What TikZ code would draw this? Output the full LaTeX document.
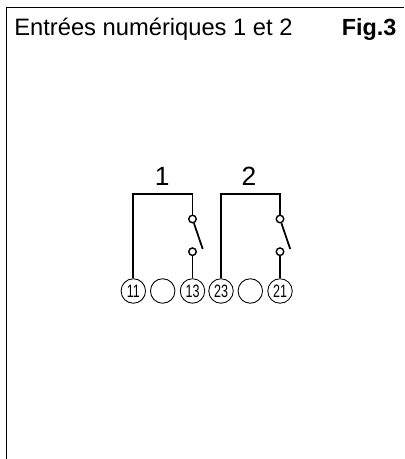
\documentclass[tikz,border=0pt]{standalone}
\usepackage{fontspec}
\setmainfont{Liberation Sans}
\tikzset{
    terminal/.style={draw=black, line width=0.5pt, circle, inner sep=0pt, minimum size=0.49cm},
    contact/.style={draw=black, line width=0.8pt, circle, inner sep=0pt, minimum size=0.15cm, fill=white},
    wire/.style={line width=1pt},
    frameline/.style={line width=1pt},
}
\newcommand\termlabel[1]{\scalebox{0.7}[1]{\fontsize{10.2}{12}\selectfont #1}}
\begin{document}
\begin{tikzpicture}
    \newcommand\posTerm{3.36}
    \newcommand\posTop{5.306}
    \newcommand\posLab{5.646}
    \useasboundingbox (0, 0) rectangle (8.08, 9.18);

    \coordinate (frameA) at (0.13, 0);
    \coordinate (frameB) at (0.13, 9.03);
    \coordinate (frameC) at (8.08, 9.03);
    \draw[frameline] (frameA) -- (frameB) -- (frameC);

    \node[anchor=base west, inner sep=0pt] (title) at (0.28, 8.466){\fontsize{13.5}{15}\selectfont Entrées numériques 1 et 2};
    \node[anchor=base east, inner sep=0pt] (fig) at (7.934, 8.466){\fontsize{13.3}{15}\selectfont\bfseries Fig.3};

    \node[terminal] (t11) at (2.666, \posTerm){\termlabel{11}};
    \node[terminal] (tA) at (3.254, \posTerm){};
    \node[terminal] (t13) at (3.85, \posTerm){\termlabel{13}};
    \node[terminal] (t23) at (4.42, \posTerm){\termlabel{23}};
    \node[terminal] (tB) at (5.006, \posTerm){};
    \node[terminal] (t21) at (5.6, \posTerm){\termlabel{21}};

    \node[contact] (c1top) at (3.85, 4.8){};
    \node[contact] (c1bot) at (3.85, 4.146){};
    \node[contact] (c2top) at (5.6, 4.8){};
    \node[contact] (c2bot) at (5.6, 4.146){};

    \coordinate (free1) at (4.054, 4.2);
    \coordinate (free2) at (5.804, 4.2);
    \coordinate (top1) at (3.85, \posTop);
    \coordinate (top2) at (5.6, \posTop);

    \draw[wire] (t11) |- (top1) -- (c1top);
    \draw[wire] (t23) |- (top2) -- (c2top);
    \draw[wire] (t13) -- (c1bot);
    \draw[wire] (t21) -- (c2bot);
    \draw[wire] (c1top) -- (free1);
    \draw[wire] (c2top) -- (free2);

    \node[] (lab1) at (3.246, \posLab){\fontsize{15}{17}\selectfont 1};
    \node[] (lab2) at (4.98, \posLab){\fontsize{15}{17}\selectfont 2};
\end{tikzpicture}
\end{document}
